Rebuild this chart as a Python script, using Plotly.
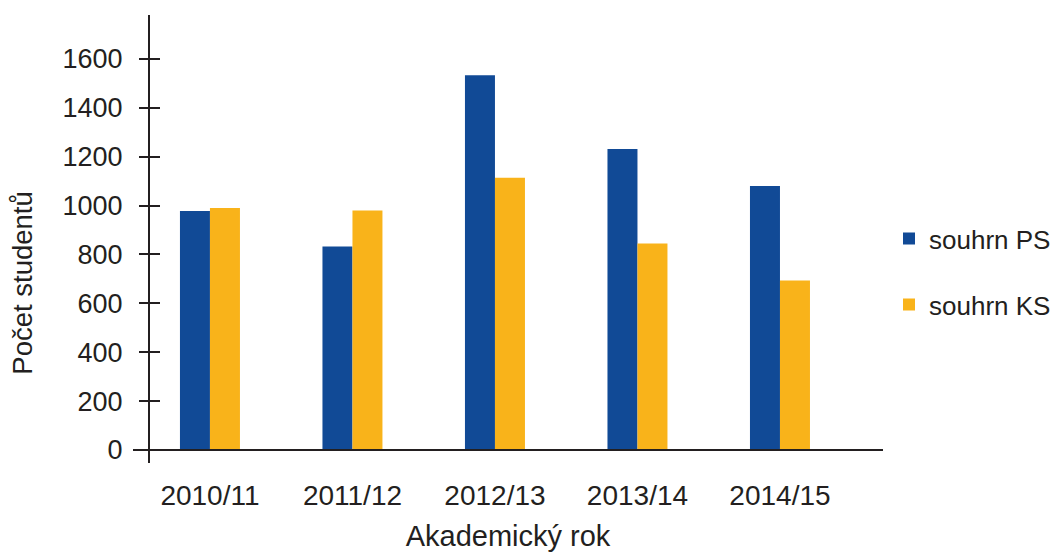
import plotly.graph_objects as go

# data
roky = ["2010/11", "2011/12", "2012/13", "2013/14", "2014/15"]
souhrn_ps = [978, 833, 1533, 1232, 1080]
souhrn_ks = [990, 980, 1114, 845, 694]
y_ticks = [0, 200, 400, 600, 800, 1000, 1200, 1400, 1600]

blue = "#114A96"
yellow = "#F9B31A"
ink = "#231F20"
font = "Liberation Sans, Arial, sans-serif"

fig = go.Figure()
fig.add_trace(go.Bar(x=roky, y=souhrn_ps, name="souhrn PS", marker=dict(color=blue, line=dict(width=0)),
                     legendgroup="ps"))
fig.add_trace(go.Bar(x=roky, y=souhrn_ks, name="souhrn KS", marker=dict(color=yellow, line=dict(width=0)),
                     legendgroup="ks"))
# invisible trace so the second y axis (crossing tick marks) gets drawn
fig.add_trace(go.Scatter(x=[roky[0]], y=[0], yaxis="y2", mode="none", showlegend=False, hoverinfo="skip"))

yrange = [-53.2, 1780]

# page body has an 8px margin, so the figure is drawn 8px smaller and offset
fig.update_layout(
    width=1051, height=544,
    margin=dict(l=125, r=176, t=7, b=89, autoexpand=False),
    paper_bgcolor="white", plot_bgcolor="white",
    font=dict(family=font, size=27, color=ink),
    barmode="group", bargap=0.579, bargroupgap=0,
    showlegend=True,
    legend=dict(x=1.008, xanchor="left", y=0.427, yanchor="middle",
                font=dict(size=26), traceorder="grouped", tracegroupgap=29,
                itemwidth=30, bgcolor="rgba(0,0,0,0)"),
    xaxis=dict(
        range=[-0.54, 4.723], anchor="free", position=0.029,
        showline=True, linecolor=ink, linewidth=2, ticks="",
        showgrid=False, zeroline=False, ticklabelstandoff=20,
        tickfont=dict(size=28),
        title=dict(text="Akademický rok", font=dict(size=29), standoff=19),
    ),
    yaxis=dict(
        range=yrange, anchor="free", position=16 / 750,
        tickvals=y_ticks, ticks="outside", ticklen=9, tickwidth=2, tickcolor=ink,
        showline=True, linecolor=ink, linewidth=2,
        showgrid=False, zeroline=False, ticklabelstandoff=11,
    ),
    yaxis2=dict(
        range=yrange, overlaying="y", anchor="free", position=16 / 750, side="left",
        tickvals=y_ticks, ticks="inside", ticklen=10, tickwidth=2, tickcolor=ink,
        showticklabels=False, showline=False, showgrid=False, zeroline=False,
    ),
    annotations=[dict(text="Počet studentů", textangle=-90, xref="paper", yref="paper",
                      x=-0.147, y=0.402, xanchor="center", yanchor="middle",
                      showarrow=False, font=dict(size=27.5, color=ink))],
)

fig.write_html("out.html")
